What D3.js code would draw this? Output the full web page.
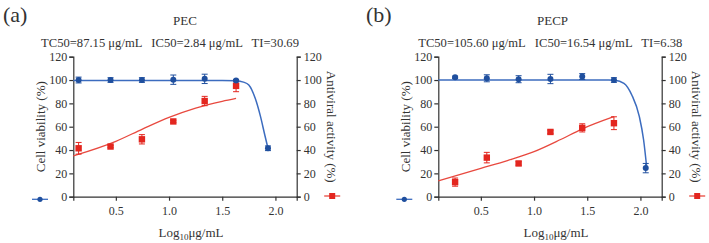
<!DOCTYPE html>
<html>
<head>
<meta charset="utf-8">
<script src="https://cdn.jsdelivr.net/npm/d3@7"></script>
<style>
  body { margin: 0; background: #fff; }
  text { font-family: 'Liberation Serif', 'Times New Roman', serif; fill: #333; }
</style>
</head>
<body>
<svg id="chart" width="709" height="243"></svg>
<script>
// x = log10 concentration, y = percent
const yTicks = [0, 20, 40, 60, 80, 100, 120]
const xTicks = [0.5, 1.0, 1.5, 2.0]

// panel (a) PEC
const pecViabX = [0.15, 0.45, 0.745, 1.04, 1.335, 1.63, 1.93]
const pecViab = [100, 100, 100, 100.3, 101, 99.5, 41.5]
const pecViabErr = [2.5, 2, 2, 4, 4, 1, 2]
const pecAntiX = [0.15, 0.45, 0.745, 1.04, 1.335, 1.63]
const pecAnti = [41.5, 43, 49.2, 64.5, 82, 95]
const pecAntiErr = [5, 1, 4, 1, 4, 5]
const pecViabCurve = [[0.1, 99.5], [1.5, 99.5], [1.63, 99.3], [1.7, 98.2], [1.75, 95.7], [1.81, 84.3], [1.86, 68.6], [1.9, 52.9], [1.93, 41.5]]
const pecAntiCurve = [[0.1, 35], [0.5, 47.5], [0.75, 58], [1.0, 68], [1.25, 76], [1.5, 81.8], [1.63, 84.3]]

// panel (b) PECP
const pecpViabX = [0.258, 0.556, 0.855, 1.154, 1.453, 1.751, 2.05]
const pecpViab = [102.3, 101.5, 100.7, 100.9, 103, 100, 24.5]
const pecpViabErr = [1, 3, 3, 4, 2.5, 2, 4]
const pecpAntiX = [0.258, 0.556, 0.855, 1.154, 1.453, 1.751]
const pecpAnti = [12.5, 33.5, 28.5, 55.5, 59, 63]
const pecpAntiErr = [3.5, 4.5, 1.5, 1.5, 3.5, 5.5]
const pecpViabCurve = [[0.1, 100], [1.7, 100], [1.76, 99.8], [1.845, 97.2], [1.92, 87], [1.99, 68.6], [2.03, 48.6], [2.06, 24.3]]
const pecpAntiCurve = [[0.1, 13.5], [0.5, 24.3], [0.75, 31], [1.0, 38.6], [1.25, 49], [1.45, 58], [1.75, 68.6]]

const blue = '#1f4f9e'
const blueLine = '#3c6cbf'
const red = '#e3261f'
const redLine = '#e8493f'

const svg = d3.select('#chart')

function drawPanel (left, cfg) {
  const g = svg.append('g').attr('transform', `translate(${left},0)`)
  const w = 223.4
  const top = 56.7
  const bottom = 196.7

  const x = d3.scaleLinear().domain([0.1, 2.2]).range([0, w])
  const y = d3.scaleLinear().domain([0, 120]).range([bottom, top])

  // axes
  const yl = g.append('g').call(d3.axisLeft(y).tickValues(yTicks).tickSize(4).tickPadding(2))
  const yr = g.append('g').attr('transform', `translate(${w},0)`)
    .call(d3.axisRight(y).tickValues(yTicks).tickSize(4).tickPadding(3))
  const xa = g.append('g').attr('transform', `translate(0,${bottom})`)
    .call(d3.axisBottom(x).tickValues(xTicks).tickFormat(d3.format('.1f')).tickSize(4).tickPadding(6))
  ;[yl, yr, xa].forEach(a => {
    a.select('.domain').attr('stroke', '#333').attr('stroke-width', 1.2)
    a.selectAll('.tick line').attr('stroke', '#333').attr('stroke-width', 1.2)
    a.selectAll('.tick text').style('font-size', '12px').attr('fill', '#333')
  })

  // fitted curves
  const line = d3.line().x(d => x(d[0])).y(d => y(d[1])).curve(d3.curveMonotoneX)
  g.append('path').datum(cfg.antiCurve).attr('d', line)
    .attr('fill', 'none').attr('stroke', redLine).attr('stroke-width', 1.3)
  g.append('path').datum(cfg.viabCurve).attr('d', line)
    .attr('fill', 'none').attr('stroke', blueLine).attr('stroke-width', 1.5)

  // error bars
  function errBars (xs, ys, es, color) {
    const eb = g.append('g').attr('stroke', color).attr('stroke-width', 1)
    xs.forEach((xv, i) => {
      const cx = x(xv)
      const y1 = y(ys[i] + es[i])
      const y2 = y(ys[i] - es[i])
      eb.append('line').attr('x1', cx).attr('x2', cx).attr('y1', y1).attr('y2', y2)
      eb.append('line').attr('x1', cx - 3).attr('x2', cx + 3).attr('y1', y1).attr('y2', y1)
      eb.append('line').attr('x1', cx - 3).attr('x2', cx + 3).attr('y1', y2).attr('y2', y2)
    })
  }
  errBars(cfg.antiX, cfg.anti, cfg.antiErr, red)
  errBars(cfg.viabX, cfg.viab, cfg.viabErr, blue)

  g.selectAll('.sq')
    .data(cfg.antiX)
    .join('rect')
    .attr('class', 'sq')
    .attr('x', d => x(d) - 3.2)
    .attr('y', (d, i) => y(cfg.anti[i]) - 3.2)
    .attr('width', 6.4)
    .attr('height', 6.4)
    .attr('fill', red)

  g.selectAll('.dot')
    .data(cfg.viabX)
    .join('circle')
    .attr('class', 'dot')
    .attr('cx', d => x(d))
    .attr('cy', (d, i) => y(cfg.viab[i]))
    .attr('r', 3)
    .attr('fill', blue)

  // legends
  const lb = g.append('g').attr('transform', `translate(${cfg.blueLegX},199.3)`)
  lb.append('line').attr('x1', -8).attr('x2', 8).attr('stroke', blueLine).attr('stroke-width', 1.3)
  lb.append('circle').attr('r', 2.6).attr('fill', blue)
  const lr = g.append('g').attr('transform', `translate(${w + 35.5},196)`)
  lr.append('line').attr('x1', -8).attr('x2', 8).attr('stroke', redLine).attr('stroke-width', 1.3)
  lr.append('rect').attr('x', -3).attr('y', -3).attr('width', 6).attr('height', 6).attr('fill', red)

  // labels
  const midY = (top + bottom) / 2
  g.append('text')
    .attr('transform', `translate(${cfg.leftLabX},${midY}) rotate(-90)`)
    .attr('text-anchor', 'middle').attr('dy', '0.35em')
    .style('font-size', '13px')
    .text('Cell viability (%)')
  g.append('text')
    .attr('transform', `translate(${w + 35},${midY}) rotate(90)`)
    .attr('text-anchor', 'middle').attr('dy', '0.35em')
    .style('font-size', '13px')
    .text('Antiviral activity (%)')

  const xl = g.append('text')
    .attr('x', w / 2 + 6).attr('y', 237)
    .attr('text-anchor', 'middle')
    .style('font-size', '13px')
  xl.append('tspan').text('Log')
  xl.append('tspan').attr('dy', 3).style('font-size', '9px').text('10')
  xl.append('tspan').attr('dy', -3).text('μg/mL')

  g.append('text')
    .attr('x', cfg.titleX).attr('y', 25)
    .attr('text-anchor', 'middle')
    .style('font-size', '13px')
    .text(cfg.title)
  g.append('text')
    .attr('x', cfg.statsX).attr('y', 47)
    .attr('text-anchor', 'middle')
    .attr('xml:space', 'preserve')
    .style('font-size', '12.6px')
    .style('white-space', 'pre')
    .text(cfg.stats)
  svg.append('text')
    .attr('x', cfg.letterX).attr('y', 22)
    .style('font-size', '22px')
    .attr('fill', '#222')
    .text(cfg.letter)
}

drawPanel(73.3, {
  letter: '(a)', letterX: 3, title: 'PEC', titleX: 111.7,
  stats: 'TC50=87.15 μg/mL   IC50=2.84 μg/mL   TI=30.69', statsX: 96.7,
  viabX: pecViabX, viab: pecViab, viabErr: pecViabErr,
  antiX: pecAntiX, anti: pecAnti, antiErr: pecAntiErr,
  viabCurve: pecViabCurve, antiCurve: pecAntiCurve,
  blueLegX: -33.3, leftLabX: -33.3
})

drawPanel(438.3, {
  letter: '(b)', letterX: 366, title: 'PECP', titleX: 114.2,
  stats: 'TC50=105.60 μg/mL   IC50=16.54 μg/mL   TI=6.38', statsX: 112,
  viabX: pecpViabX, viab: pecpViab, viabErr: pecpViabErr,
  antiX: pecpAntiX, anti: pecpAnti, antiErr: pecpAntiErr,
  viabCurve: pecpViabCurve, antiCurve: pecpAntiCurve,
  blueLegX: -34, leftLabX: -33.3
})
</script>
</body>
</html>
